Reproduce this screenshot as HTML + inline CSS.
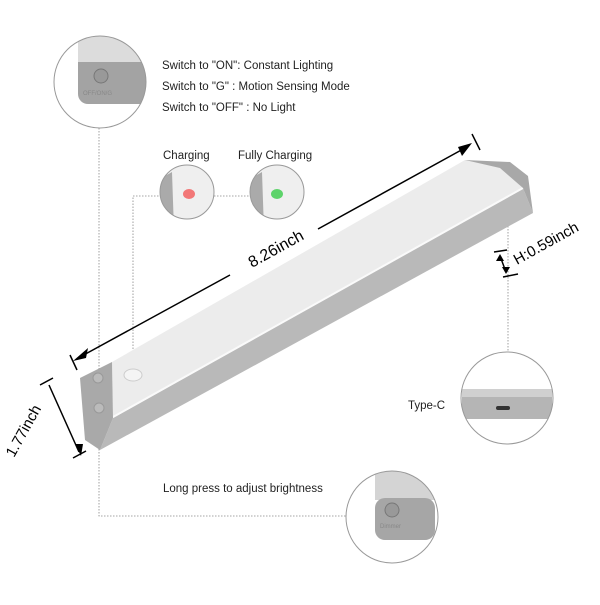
<!DOCTYPE html>
<html><head><style>
body{margin:0;background:#fff;width:600px;height:600px;overflow:hidden}
svg text{font-family:"Liberation Sans",sans-serif}
</style></head><body>
<svg width="600" height="600" xmlns="http://www.w3.org/2000/svg">
<defs>
<clipPath id="c1"><circle cx="100" cy="82" r="46"/></clipPath>
<clipPath id="c2"><circle cx="187" cy="192" r="27"/></clipPath>
<clipPath id="c3"><circle cx="277" cy="192" r="27"/></clipPath>
<clipPath id="c4"><circle cx="507" cy="398" r="46"/></clipPath>
<clipPath id="c5"><circle cx="392" cy="517" r="46"/></clipPath>
</defs>
<g stroke="#888" stroke-width="0.8" stroke-dasharray="1.5,1.5" fill="none">
<path d="M99 128 V516 H346"/>
<path d="M133 376 V196 H160"/>
<path d="M214 196 H250"/>
<path d="M508 175 V352"/>
</g>
<!-- bar -->
<polygon points="113,418 523,188 533,213 100,450" fill="#b9b9b9"/>
<polygon points="112,362 465,160 508,166 523,188 113,418" fill="#ececec"/>
<line x1="113" y1="417" x2="523" y2="188" stroke="#fafafa" stroke-width="2"/>
<polygon points="465,160 510,162 528,176 533,213 523,188 500,168" fill="#a8a8a8"/>
<polygon points="80,378 112,362 113,418 100,450 85,440" fill="#a9a9a9"/>
<circle cx="98" cy="378" r="5" fill="#bbb" stroke="#999"/>
<circle cx="99" cy="408" r="5" fill="#bbb" stroke="#999"/>
<ellipse cx="133" cy="375" rx="9" ry="6" fill="#f4f4f4" stroke="#ccc"/>
<!-- dimension lines -->
<g stroke="#000" stroke-width="1.5">
<line x1="80" y1="357" x2="230" y2="275"/>
<line x1="318" y1="229" x2="465" y2="148"/>
<line x1="70" y1="355" x2="77" y2="370"/>
<line x1="472" y1="134" x2="480" y2="150"/>
<line x1="494" y1="252" x2="507" y2="250"/>
<line x1="503" y1="277" x2="518" y2="274"/>
<line x1="500" y1="256" x2="506" y2="272"/>
<line x1="40" y1="385" x2="53" y2="378"/>
<line x1="73" y1="458" x2="86" y2="451"/>
<line x1="49" y1="385" x2="79" y2="452"/>
</g>
<polygon points="73,361 88,348 86,358" fill="#000"/>
<polygon points="472,143 458,147 462,156" fill="#000"/>
<polygon points="500,254 496,261 504,261" fill="#000"/>
<polygon points="506,274 502,267 510,267" fill="#000"/>
<polygon points="81,456 75,444 83,444" fill="#000"/>
<text x="0" y="0" font-size="16" transform="translate(252,268) rotate(-29)">8.26inch</text>
<text x="0" y="0" font-size="15" transform="translate(517,265) rotate(-29)">H:0.59inch</text>
<text x="0" y="0" font-size="15" transform="translate(14,458) rotate(-61)">1.77inch</text>
<!-- circle 1 -->
<g clip-path="url(#c1)">
<rect x="50" y="30" width="100" height="110" fill="#fff"/>
<rect x="78" y="30" width="80" height="34" fill="#dcdcdc"/>
<rect x="78" y="62" width="80" height="42" rx="10" fill="#a3a3a3"/>
<rect x="78" y="62" width="20" height="20" fill="#a3a3a3"/>
<circle cx="101" cy="76" r="7" fill="#999" stroke="#777"/>
<text x="83" y="95" font-size="6" fill="#888">OFF/ON/G</text>
</g>
<circle cx="100" cy="82" r="46" fill="none" stroke="#999"/>
<!-- charging circles -->
<g clip-path="url(#c2)"><rect x="150" y="160" width="80" height="70" fill="#efefef"/>
<polygon points="158,180 172,172 174,230 158,230" fill="#aaa"/><ellipse cx="189" cy="194" rx="6" ry="5" fill="#f27777"/></g>
<circle cx="187" cy="192" r="27" fill="none" stroke="#999"/>
<g clip-path="url(#c3)"><rect x="240" y="160" width="80" height="70" fill="#efefef"/>
<polygon points="248,180 262,172 264,230 248,230" fill="#aaa"/><ellipse cx="277" cy="194" rx="6" ry="5" fill="#5dd36a"/></g>
<circle cx="277" cy="192" r="27" fill="none" stroke="#999"/>
<!-- type-c -->
<g clip-path="url(#c4)"><rect x="460" y="350" width="100" height="100" fill="#fff"/>
<rect x="462" y="389" width="90" height="8" fill="#d0d0d0"/>
<rect x="462" y="397" width="90" height="22" fill="#b5b5b5"/>
<rect x="496" y="406" width="14" height="4" rx="2" fill="#333"/></g>
<circle cx="507" cy="398" r="46" fill="none" stroke="#999"/>
<!-- bottom circle -->
<g clip-path="url(#c5)"><rect x="340" y="470" width="110" height="100" fill="#fff"/>
<rect x="375" y="470" width="60" height="30" fill="#d4d4d4"/>
<rect x="375" y="498" width="60" height="42" rx="10" fill="#a6a6a6"/>
<circle cx="392" cy="510" r="7" fill="#999" stroke="#777"/>
<text x="380" y="528" font-size="6" fill="#888">Dimmer</text></g>
<circle cx="392" cy="517" r="46" fill="none" stroke="#999"/>
<!-- labels -->
<g font-size="11.5" fill="#222">
<text x="162" y="69">Switch to "ON": Constant Lighting</text>
<text x="162" y="90">Switch to "G"   : Motion Sensing Mode</text>
<text x="162" y="111">Switch to "OFF" : No Light</text>
<text x="163" y="159">Charging</text>
<text x="238" y="159">Fully Charging</text>
<text x="408" y="409">Type-C</text>
<text x="163" y="492">Long press to adjust brightness</text>
</g>
</svg>
</body></html>
